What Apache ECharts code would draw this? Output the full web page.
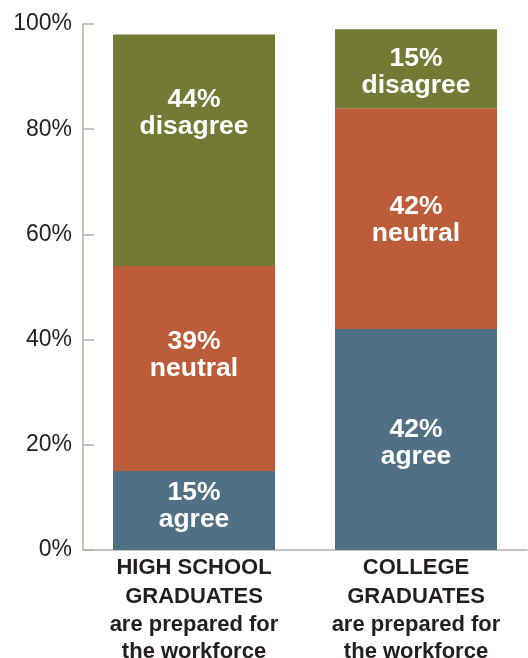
<!DOCTYPE html>
<html><head><meta charset="utf-8">
<script src="https://cdn.jsdelivr.net/npm/echarts@6/dist/echarts.min.js"></script>
<style>html,body{margin:0;padding:0;background:#fff}#c{width:528px;height:658px}</style>
</head><body><div id="c"></div>
<script>
const categories = ['HIGH SCHOOL\nGRADUATES\nare prepared for\nthe workforce', 'COLLEGE\nGRADUATES\nare prepared for\nthe workforce'];
const seriesNames = ['agree', 'neutral', 'disagree'];
const agree = [15, 42];
const neutral = [39, 42];
const disagree = [44, 15];
const yTicks = [0, 20, 40, 60, 80, 100];

const colors = ['#4f7085', '#bd5c38', '#737a34'];
const labelOffsets = [[[0, -4], [0, 4]], [[0, -13], [0, 2]], [[0, -37], [0, 3]]];
const values = [agree, neutral, disagree];
const axisColor = '#b9b1a9';
const font = 'Liberation Sans, Arial, Helvetica, sans-serif';

const chart = echarts.init(document.getElementById('c'), null, {renderer: 'canvas'});
chart.setOption({
  animation: false,
  grid: {left: 83, right: 1, top: 24, bottom: 108, containLabel: false, outerBoundsMode: 'none'},
  xAxis: {
    type: 'category',
    data: categories,
    axisLine: {lineStyle: {color: axisColor, width: 1.5}},
    axisTick: {inside: true, length: 13, lineStyle: {color: axisColor, width: 1.5}},
    axisLabel: {
      margin: 4,
      interval: 0,
      formatter: function (v) {
        const p = v.split('\n');
        return '{b|' + p[0] + '}\n{b|' + p[1] + '}\n{n|' + p[2] + '}\n{n|' + p[3] + '}';
      },
      rich: {
        b: {fontFamily: font, fontWeight: 'bold', fontSize: 22, lineHeight: 28.5, color: '#231f20'},
        n: {fontFamily: font, fontWeight: 'bold', fontSize: 22, lineHeight: 27, color: '#231f20'}
      }
    }
  },
  yAxis: {
    type: 'value',
    min: 0, max: 100, interval: 20,
    axisLine: {show: true, lineStyle: {color: axisColor, width: 1.5}},
    axisTick: {show: true, inside: true, length: 11, lineStyle: {color: axisColor, width: 1.5}},
    splitLine: {show: false},
    axisLabel: {
      margin: 11, fontFamily: font, fontSize: 23, color: '#231f20',
      formatter: function (v) { return yTicks.indexOf(v) >= 0 ? v + '%' : ''; }
    }
  },
  series: seriesNames.map(function (name, si) {
    return {
      name: name,
      type: 'bar',
      stack: 'total',
      barWidth: 162,
      itemStyle: {color: colors[si]},
      label: {
        show: true,
        position: 'inside',
        color: '#ffffff',
        fontFamily: font,
        fontWeight: 'bold',
        fontSize: 26.5,
        lineHeight: 27,
        formatter: function (p) { return p.value + '%\n' + name; }
      },
      data: values[si].map(function (v, i) {
        return {value: v, label: {offset: labelOffsets[si][i]}};
      })
    };
  })
});
</script>
</body></html>
